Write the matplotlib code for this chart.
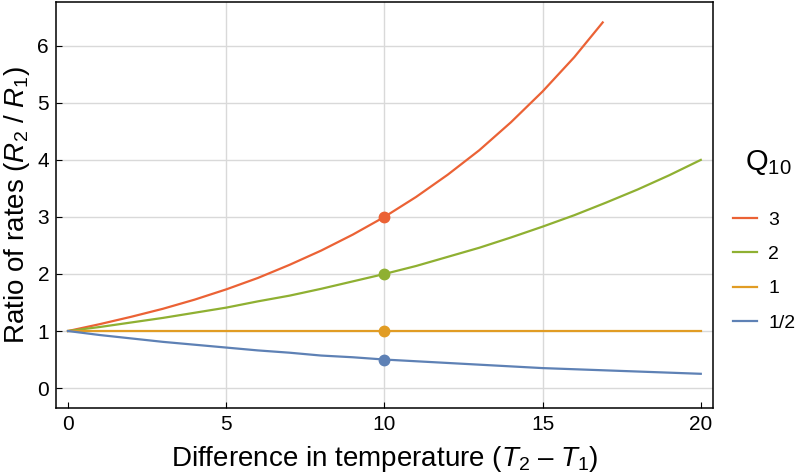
import numpy as np
import matplotlib.pyplot as plt

plt.rcParams['font.family'] = ['Liberation Sans', 'DejaVu Sans']
plt.rcParams['mathtext.fontset'] = 'custom'
plt.rcParams['mathtext.rm'] = 'Liberation Sans'
plt.rcParams['mathtext.it'] = 'Liberation Sans:italic'

# temperature differences and read-off ratios
dt = [0, 1, 2, 3, 4, 5, 6, 7, 8, 9, 10, 11, 12, 13, 14, 15, 16, 17, 18, 19, 20]
dt_q3 = [0, 1, 2, 3, 4, 5, 6, 7, 8, 9, 10, 11, 12, 13, 14, 15, 16, 16.9]
r_q3 = [1, 1.12, 1.25, 1.39, 1.55, 1.73, 1.93, 2.16, 2.41, 2.69, 3.00,
        3.35, 3.74, 4.17, 4.66, 5.20, 5.80, 6.41]
r_q2 = [1, 1.07, 1.15, 1.23, 1.32, 1.41, 1.52, 1.62, 1.74, 1.87, 2.00,
        2.14, 2.30, 2.46, 2.64, 2.83, 3.03, 3.25, 3.48, 3.73, 4.00]
r_q1 = [1] * 21
r_qhalf = [1, 0.93, 0.87, 0.81, 0.76, 0.71, 0.66, 0.62, 0.57, 0.54, 0.50,
           0.47, 0.44, 0.41, 0.38, 0.35, 0.33, 0.31, 0.29, 0.27, 0.25]

labels = ['3', '2', '1', '1/2']
colors = ['#EB6235', '#8FB032', '#E19C24', '#5E81B5']
mark_x = 10
mark_y = [3, 2, 1, 0.5]


def main():
    fig = plt.figure(figsize=(8, 4.75), dpi=100)
    ax = fig.add_axes([0.07, 0.141, 0.821, 0.855])

    series = [(dt_q3, r_q3), (dt, r_q2), (dt, r_q1), (dt, r_qhalf)]
    for (x, y), c, lab, my in zip(series, colors, labels, mark_y):
        ax.plot(x, y, color=c, lw=1.6, label=lab)
        ax.plot([mark_x], [my], 'o', color=c, ms=7.5, zorder=4)

    ax.set_xlim(-0.38, 20.38)
    ax.set_ylim(-0.35, 6.77)
    ax.set_xticks([0, 5, 10, 15, 20])
    ax.set_yticks([0, 1, 2, 3, 4, 5, 6])
    ax.grid(axis='y', color='#d9d9d9', lw=1)
    for gx in [5, 10, 15]:
        ax.axvline(gx, color='#d9d9d9', lw=1, zorder=0)
    ax.set_axisbelow(True)
    ax.tick_params(direction='in', length=4, labelsize=15, pad=5,
                   top=False, right=False)
    for s in ax.spines.values():
        s.set_linewidth(1.1)

    ax.set_xlabel('Difference in temperature ($T_2$ \u2013 $T_1$)', fontsize=20, labelpad=7)
    ax.set_ylabel('Ratio of rates ($R_2$ / $R_1$)', fontsize=20, labelpad=4)

    fig.text(0.931, 0.657, '$\\mathrm{Q}_{10}$', fontsize=21, ha='left', va='center')
    leg = ax.legend(loc='upper left', bbox_to_anchor=(1.031, 0.485), frameon=False,
                    fontsize=14, handlelength=1.24, labelspacing=0.86,
                    handletextpad=0.57, borderpad=0, borderaxespad=0)
    for h in leg.get_lines():
        h.set_linewidth(1.6)

    fig.savefig('out.png', dpi=100)


if __name__ == '__main__':
    main()
